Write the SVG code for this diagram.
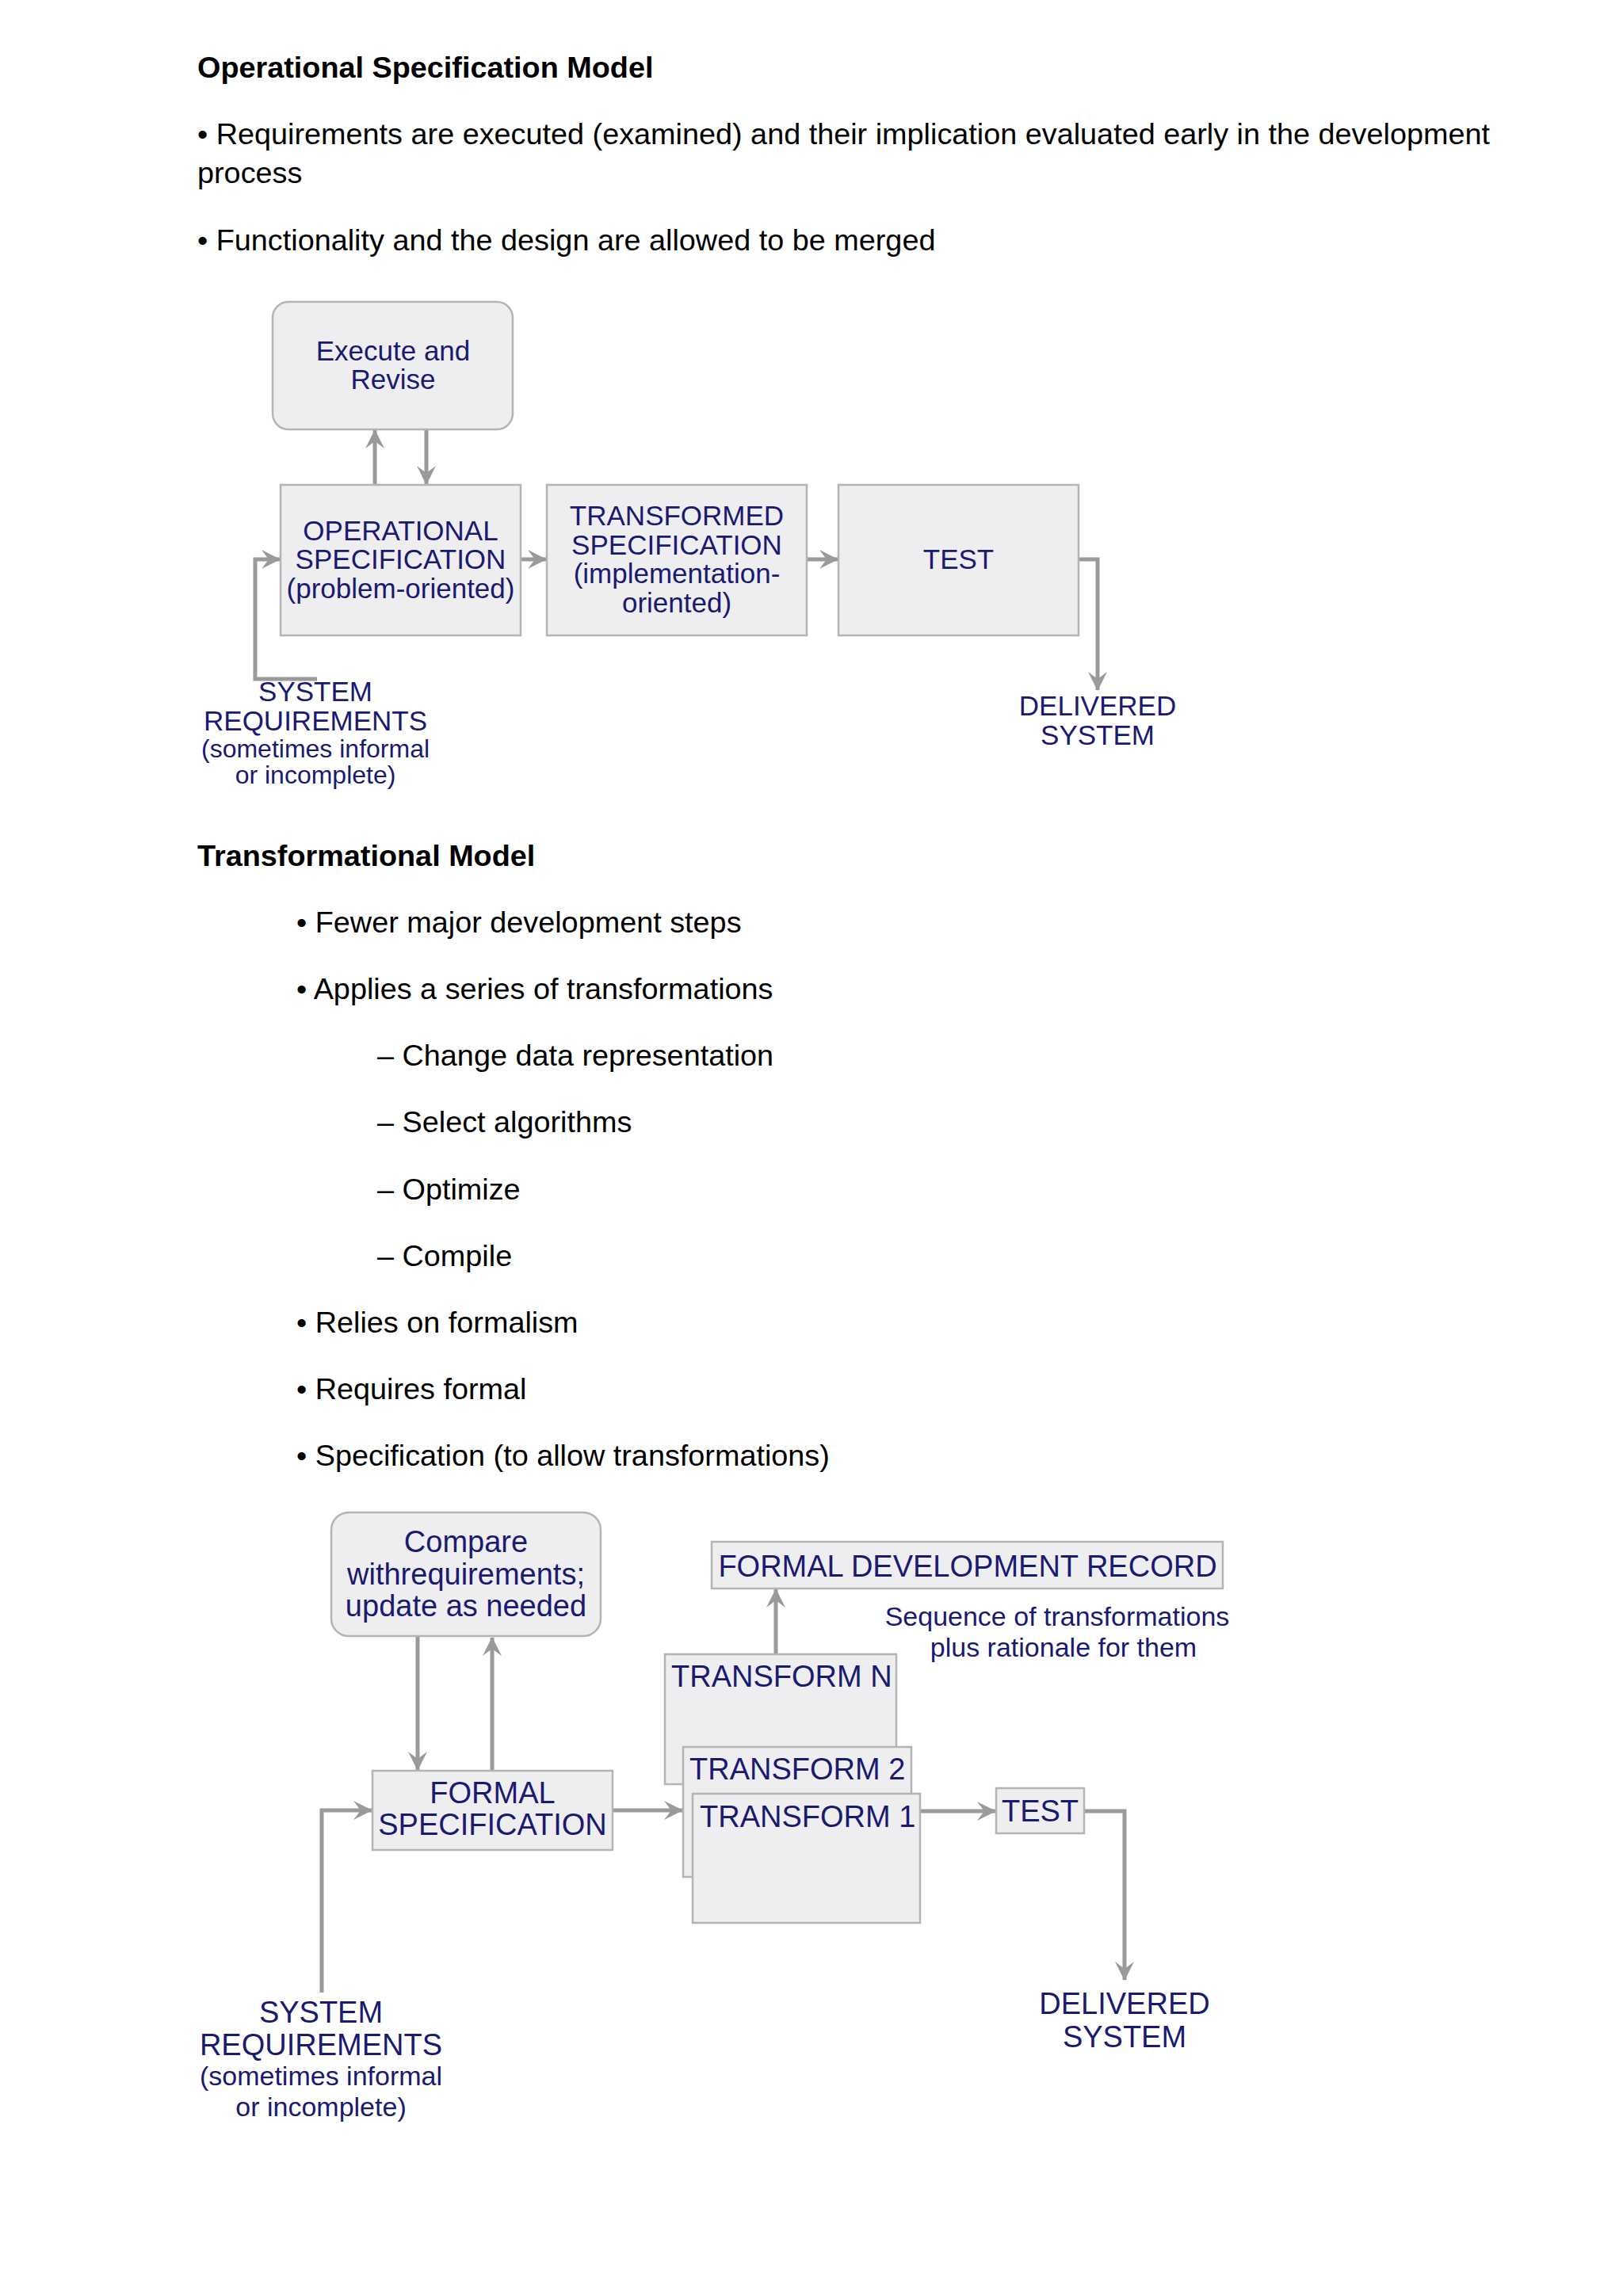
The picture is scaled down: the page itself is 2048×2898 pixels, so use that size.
<svg xmlns="http://www.w3.org/2000/svg" width="2048" height="2898" viewBox="0 0 2048 2898">
<style>
.h{font-family:"Liberation Sans",Arial,sans-serif;font-size:37.8px;font-weight:bold;fill:#000}
.b{font-family:"Liberation Sans",Arial,sans-serif;font-size:37.8px;fill:#000}
.n{font-family:"Liberation Sans",Arial,sans-serif;font-size:35px;fill:#1a1a70;text-anchor:middle}
.s{font-size:32px}
.n2{font-family:"Liberation Sans",Arial,sans-serif;font-size:38px;fill:#1a1a70;text-anchor:middle}
.l2{font-family:"Liberation Sans",Arial,sans-serif;font-size:38px;fill:#1a1a70}
.s2{font-size:34px}
.box{fill:#eeeef0;stroke:#b4b4b4;stroke-width:2.5}
.c{fill:none;stroke:#9a9a9a;stroke-width:5;marker-end:url(#ah)}
</style>
<defs>
<marker id="ah" markerUnits="userSpaceOnUse" markerWidth="24" markerHeight="26" viewBox="0 0 24 26" refX="23" refY="13" orient="auto">
<path d="M0,1 L24,13 L0,25 L9,13 Z" fill="#9a9a9a"/>
</marker>
</defs>
<rect width="2048" height="2898" fill="#fff"/>

<g id="text-top">
<text class="h" x="249" y="98">Operational Specification Model</text>
<text class="b" x="249" y="182">• Requirements are executed (examined) and their implication evaluated early in the development</text>
<text class="b" x="249" y="231">process</text>
<text class="b" x="249" y="316">• Functionality and the design are allowed to be merged</text>
</g>

<g id="text-mid">
<text class="h" x="249" y="1093">Transformational Model</text>
<text class="b" x="374" y="1177">• Fewer major development steps</text>
<text class="b" x="374" y="1261">• Applies a series of transformations</text>
<text class="b" x="476" y="1345">– Change data representation</text>
<text class="b" x="476" y="1429">– Select algorithms</text>
<text class="b" x="476" y="1514">– Optimize</text>
<text class="b" x="476" y="1598">– Compile</text>
<text class="b" x="374" y="1682">• Relies on formalism</text>
<text class="b" x="374" y="1766">• Requires formal</text>
<text class="b" x="374" y="1850">• Specification (to allow transformations)</text>
</g>

<g id="connectors">
<path class="c" d="M473,612 L473,543"/>
<path class="c" d="M538,542 L538,611"/>
<path class="c" d="M657,706 L689,706"/>
<path class="c" d="M1018,706 L1057,706"/>
<path class="c" d="M1361,706 H1385 V871"/>
<path class="c" d="M400,857 H322 V706 H353"/>
<path class="c" d="M527,2065 L527,2234"/>
<path class="c" d="M621,2235 L621,2067"/>
<path class="c" d="M773,2285 L861,2285"/>
<path class="c" d="M979,2088 L979,2006"/>
<path class="c" d="M1161,2286 L1256,2286"/>
<path class="c" d="M1368,2286 H1419 V2499"/>
<path class="c" d="M406,2515 V2285 H469"/>
</g>

<g id="execute">
<rect class="box" x="344" y="381" width="303" height="161" rx="20"/>
<text class="n" x="496" y="455">Execute and<tspan x="496" y="491">Revise</tspan></text>
</g>
<g id="op-spec">
<rect class="box" x="354" y="612" width="303" height="190"/>
<text class="n" x="505.5" y="681.5">OPERATIONAL<tspan x="505.5" y="718">SPECIFICATION</tspan><tspan x="505.5" y="754.5">(problem-oriented)</tspan></text>
</g>
<g id="tr-spec">
<rect class="box" x="690" y="612" width="328" height="190"/>
<text class="n" x="854" y="663">TRANSFORMED<tspan x="854" y="699.5">SPECIFICATION</tspan><tspan x="854" y="736">(implementation-</tspan><tspan x="854" y="772.5">oriented)</tspan></text>
</g>
<g id="test1">
<rect class="box" x="1058" y="612" width="303" height="190"/>
<text class="n" x="1209.5" y="718">TEST</text>
</g>
<g id="sysreq1">
<text class="n" x="398" y="885">SYSTEM<tspan x="398" y="921.5">REQUIREMENTS</tspan><tspan class="s" x="398" y="956">(sometimes informal</tspan><tspan class="s" x="398" y="989">or incomplete)</tspan></text>
</g>
<g id="delivered1">
<text class="n" x="1385" y="903">DELIVERED<tspan x="1385" y="939.5">SYSTEM</tspan></text>
</g>

<g id="compare">
<rect class="box" x="418" y="1909" width="340" height="156" rx="22"/>
<text class="n2" x="588" y="1959">Compare<tspan x="588" y="2000">withrequirements;</tspan><tspan x="588" y="2040">update as needed</tspan></text>
</g>
<g id="fdr">
<rect class="box" x="898" y="1946" width="645" height="59"/>
<text class="n2" x="1221" y="1990">FORMAL DEVELOPMENT RECORD</text>
</g>
<g id="seq-note">
<text class="n2 s2" x="1334" y="2052">Sequence of transformations<tspan x="1342" y="2091">plus rationale for them</tspan></text>
</g>
<g id="transform-n">
<rect class="box" x="839" y="2088" width="292" height="164"/>
<text class="l2" x="847" y="2129">TRANSFORM N</text>
</g>
<g id="transform-2">
<rect class="box" x="862" y="2205" width="288" height="164"/>
<text class="l2" x="870" y="2246">TRANSFORM 2</text>
</g>
<g id="transform-1">
<rect class="box" x="874" y="2264" width="287" height="163"/>
<text class="l2" x="883" y="2306">TRANSFORM 1</text>
</g>
<g id="formal-spec">
<rect class="box" x="470" y="2235" width="303" height="100"/>
<text class="n2" x="621.5" y="2276">FORMAL<tspan x="621.5" y="2316">SPECIFICATION</tspan></text>
</g>
<g id="test2">
<rect class="box" x="1257" y="2257" width="111" height="57"/>
<text class="n2" x="1312.5" y="2299">TEST</text>
</g>
<g id="delivered2">
<text class="n2" x="1419" y="2542">DELIVERED<tspan x="1419" y="2584">SYSTEM</tspan></text>
</g>
<g id="sysreq2">
<text class="n2" x="405" y="2553">SYSTEM<tspan x="405" y="2594">REQUIREMENTS</tspan><tspan class="s2" x="405" y="2632">(sometimes informal</tspan><tspan class="s2" x="405" y="2671">or incomplete)</tspan></text>
</g>
</svg>
